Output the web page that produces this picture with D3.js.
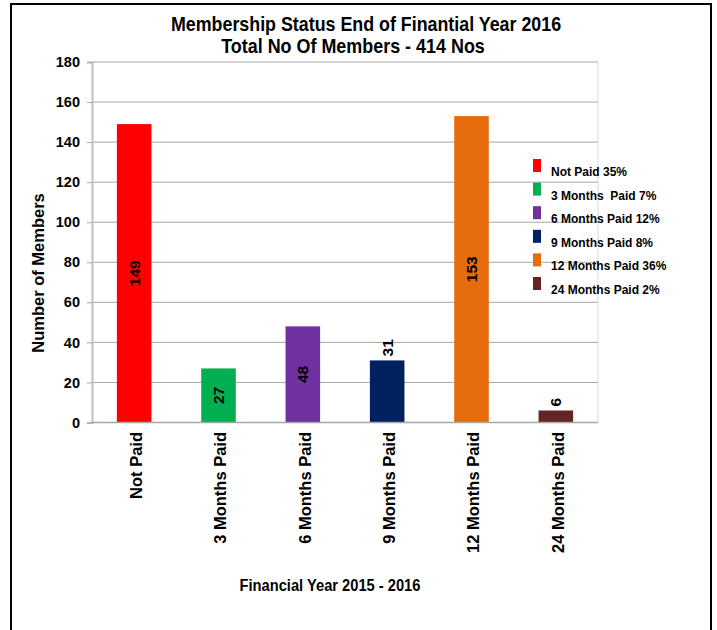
<!DOCTYPE html>
<html>
<head>
<meta charset="utf-8">
<script src="https://cdn.jsdelivr.net/npm/d3@7"></script>
<style>
  body { margin: 0; background: #fff; }
  text { font-family: Arial, "Liberation Sans", sans-serif; font-weight: bold; fill: #000; }
</style>
</head>
<body>
<div id="chart"></div>
<script>
// chart data
var categories = ["Not Paid", "3 Months Paid", "6 Months Paid", "9 Months Paid", "12 Months Paid", "24 Months Paid"];
var members = [149, 27, 48, 31, 153, 6];
var barColors = ["#ff0000", "#00b050", "#7030a0", "#002060", "#e46c0a", "#632523"];
var legendLabels = ["Not Paid 35%", "3 Months  Paid 7%", "6 Months Paid 12%", "9 Months Paid 8%", "12 Months Paid 36%", "24 Months Paid 2%"];
var labelInside = [true, true, true, false, true, false];
var yTicks = [0, 20, 40, 60, 80, 100, 120, 140, 160, 180];

var data = categories.map(function (c, i) {
  return { name: c, value: members[i], color: barColors[i], inside: labelInside[i] };
});

var width = 717, height = 630;
var plot = { left: 92, right: 598, top: 62, bottom: 422.5 };

var svg = d3.select("#chart").append("svg")
  .attr("width", width)
  .attr("height", height);

// outer frame
svg.append("rect")
  .attr("x", 11).attr("y", 4)
  .attr("width", 700).attr("height", 640)
  .attr("fill", "none")
  .attr("stroke", "#000")
  .attr("stroke-width", 2);

var xScale = d3.scaleBand()
  .domain(categories)
  .range([plot.left, plot.right])
  .paddingInner(0.59)
  .paddingOuter(0.295);

var yScale = d3.scaleLinear()
  .domain([0, 180])
  .range([plot.bottom, plot.top]);

// gridlines
svg.append("g")
  .selectAll("line")
  .data(yTicks.slice(1))
  .enter()
  .append("line")
  .attr("x1", plot.left).attr("x2", plot.right)
  .attr("y1", function (d) { return yScale(d); })
  .attr("y2", function (d) { return yScale(d); })
  .attr("stroke", "#a6a6a6")
  .attr("stroke-width", 1);

// right border of plot area
svg.append("line")
  .attr("x1", plot.right).attr("x2", plot.right)
  .attr("y1", plot.top).attr("y2", plot.bottom)
  .attr("stroke", "#d9d9d9");

// y axis
var yAxis = svg.append("g")
  .attr("transform", "translate(" + plot.left + ",0)")
  .call(d3.axisLeft(yScale).tickValues(yTicks).tickSize(5).tickPadding(7));
yAxis.select(".domain").attr("stroke", "#bfbfbf").attr("stroke-width", 2);
yAxis.selectAll(".tick line").attr("stroke", "#a6a6a6");
yAxis.selectAll("text")
  .style("font-size", "14.5px")
  .style("font-family", "Arial, 'Liberation Sans', sans-serif")
  .style("font-weight", "bold")
  .attr("fill", "#000");

// bars
svg.append("g")
  .selectAll("rect")
  .data(data)
  .enter()
  .append("rect")
  .attr("x", function (d) { return xScale(d.name); })
  .attr("y", function (d) { return yScale(d.value); })
  .attr("width", xScale.bandwidth())
  .attr("height", function (d) { return yScale(0) - yScale(d.value); })
  .attr("fill", function (d) { return d.color; });

// x axis line
svg.append("line")
  .attr("x1", plot.left).attr("x2", plot.right)
  .attr("y1", plot.bottom).attr("y2", plot.bottom)
  .attr("stroke", "#a6a6a6")
  .attr("stroke-width", 1.5);

// value labels
svg.append("g")
  .selectAll("text")
  .data(data)
  .enter()
  .append("text")
  .attr("transform", function (d) {
    var cx = xScale(d.name) + xScale.bandwidth() / 2;
    var cy = d.inside ? (yScale(d.value) + yScale(0)) / 2 : yScale(d.value) - 4;
    return "translate(" + cx + "," + cy + ") rotate(-90)";
  })
  .attr("text-anchor", function (d) { return d.inside ? "middle" : "start"; })
  .attr("dy", "0.35em")
  .style("font-size", "15.5px")
  .text(function (d) { return d.value; });

// category labels
svg.append("g")
  .selectAll("text")
  .data(categories)
  .enter()
  .append("text")
  .attr("transform", function (d) {
    return "translate(" + (xScale(d) + xScale.bandwidth() / 2 + 2) + "," + 432 + ") rotate(-90)";
  })
  .attr("text-anchor", "end")
  .attr("dy", "0.35em")
  .style("font-size", "16.5px")
  .text(function (d) { return d; });

// titles (squeezed horizontally, narrow face is not installed)
function narrowText(x, y, size, sx, str) {
  svg.append("text")
    .attr("transform", "translate(" + x + "," + y + ") scale(" + sx + ",1)")
    .attr("text-anchor", "middle")
    .style("font-size", size + "px")
    .text(str);
}
narrowText(366, 31, 21, 0.85, "Membership Status End of Finantial Year 2016");
narrowText(353, 53, 19.5, 0.92, "Total No Of Members - 414 Nos");
narrowText(330, 591, 16.5, 0.89, "Financial Year 2015 - 2016");

svg.append("text")
  .attr("transform", "translate(44," + 273 + ") rotate(-90)")
  .attr("text-anchor", "middle")
  .style("font-size", "16.5px")
  .text("Number of Members");

// legend
var legend = svg.append("g")
  .selectAll("g")
  .data(legendLabels)
  .enter()
  .append("g")
  .attr("transform", function (d, i) { return "translate(533," + (159 + i * 23.6) + ")"; });

legend.append("rect")
  .attr("width", 8).attr("height", 13)
  .attr("fill", function (d, i) { return barColors[i]; });

legend.append("text")
  .attr("x", 18).attr("y", 17)
  .style("font-size", "12px")
  .style("white-space", "pre")
  .text(function (d) { return d; });
</script>
</body>
</html>
